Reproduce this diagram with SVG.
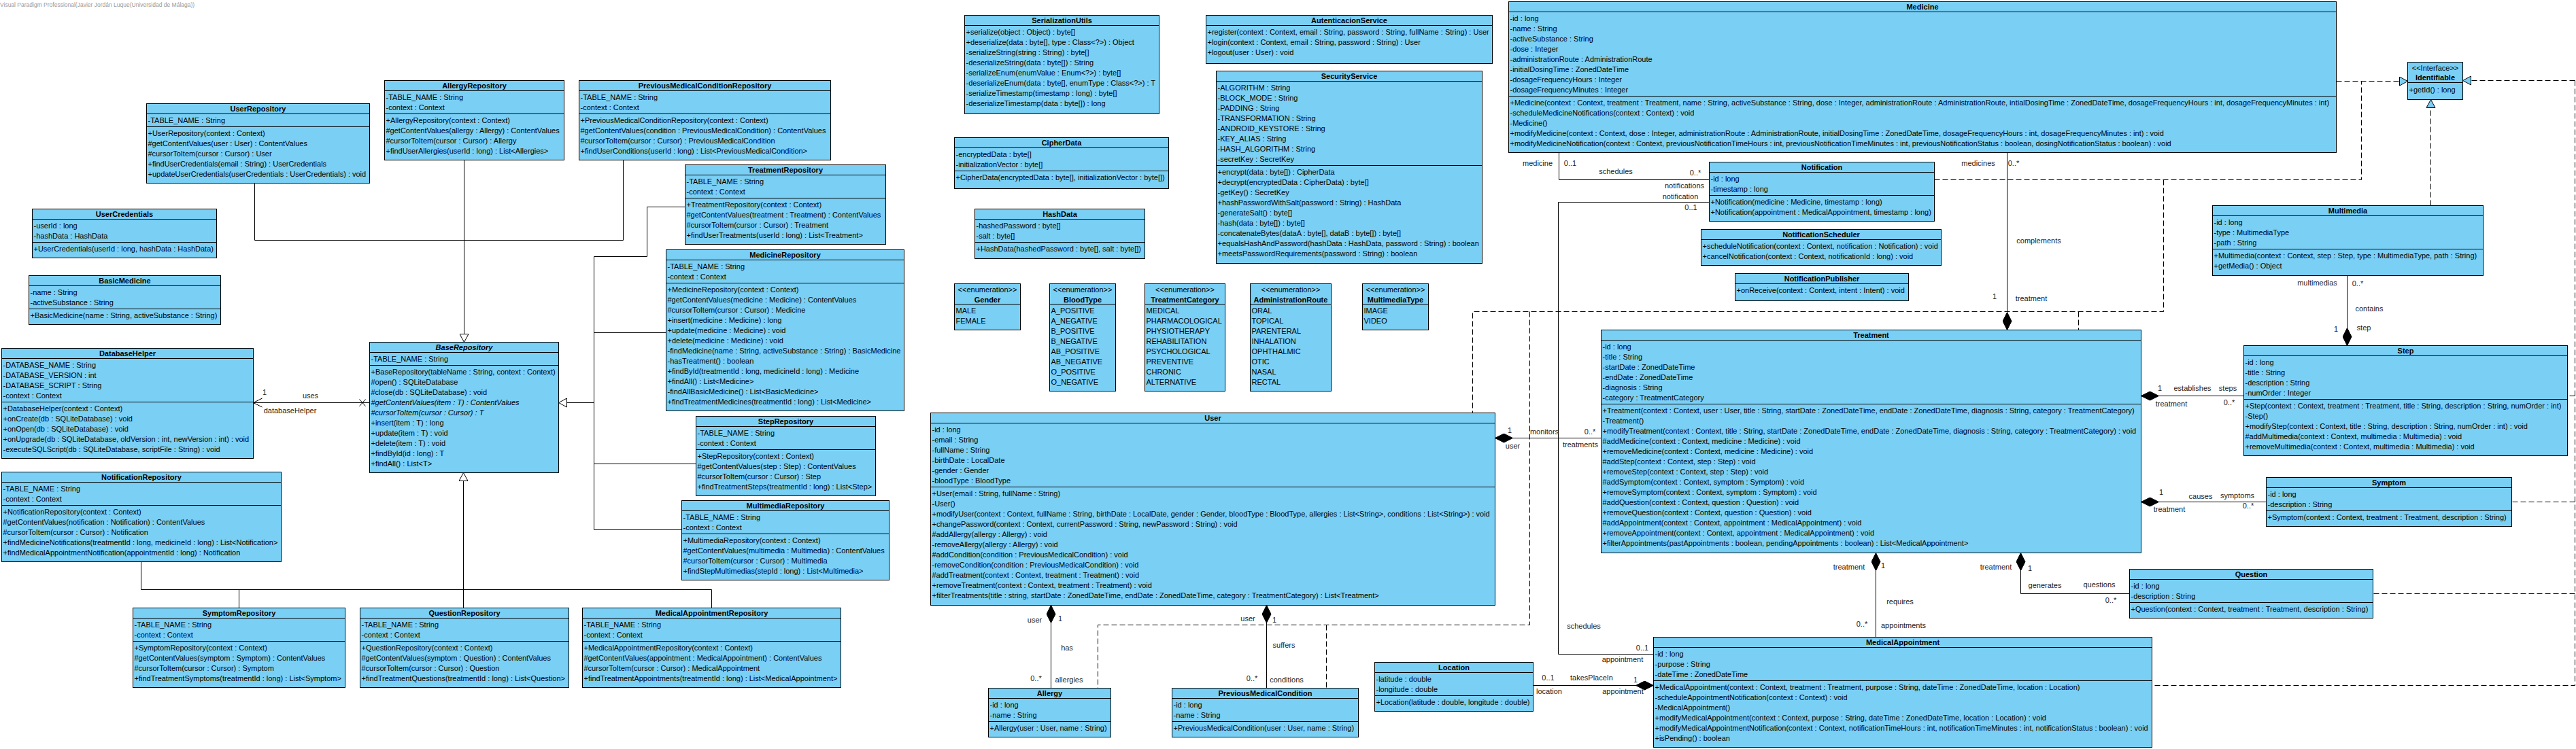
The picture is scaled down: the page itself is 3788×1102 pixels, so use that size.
<svg xmlns="http://www.w3.org/2000/svg" width="3788" height="1102" viewBox="0 0 3788 1102">
<style>
.b{fill:#7acff5;stroke:#000;stroke-width:1}
.s{fill:none;stroke:#000;stroke-width:1}
text{font-family:"Liberation Sans",Arial,Helvetica,sans-serif;font-size:11px;fill:#000}
.h{font-weight:bold;text-anchor:middle}
.m{text-anchor:middle}
.i{font-style:italic}
.c{fill:none;stroke:#000;stroke-width:1}
.d{stroke-dasharray:8 4}
.l{fill:#222;text-anchor:middle}
.w{font-size:8.5px;fill:#9a9a9a}
</style>
<defs>
<marker id="gen" viewBox="0 0 14 14" refX="13" refY="7" markerWidth="14" markerHeight="14" orient="auto" markerUnits="userSpaceOnUse"><path d="M1,0.5L13,7L1,13.5Z" fill="#fff" stroke="#000"/></marker>
<marker id="real" viewBox="0 0 14 14" refX="13" refY="7" markerWidth="14" markerHeight="14" orient="auto" markerUnits="userSpaceOnUse"><path d="M1,0.5L13,7L1,13.5Z" fill="#7acff5" stroke="#000" stroke-dasharray="none"/></marker>
<marker id="dia" viewBox="0 0 27 14" refX="0.5" refY="7" markerWidth="27" markerHeight="14" orient="auto" markerUnits="userSpaceOnUse"><path d="M0.5,7L13.5,0.5L26.5,7L13.5,13.5Z" fill="#000" stroke="#000"/></marker>
</defs>
<rect width="3788" height="1102" fill="#fff"/>
<text class="w" x="0" y="10">Visual Paradigm Professional(Javier Jordán Luque(Universidad de Málaga))</text>

<g id="connectors">
<path class="c" d="M682.5,235.5V503.5" marker-end="url(#gen)"/>
<path class="c" d="M374.5,269.5V353.5H682.5"/>
<path class="c" d="M916.5,235.5V353.5H682.5"/>
<path class="c" d="M873.5,592.5H821.5" marker-end="url(#gen)"/>
<path class="c" d="M873.5,377.5V779.5"/>
<path class="c" d="M1007.5,304.5H951.5V377.5H873.5"/>
<path class="c" d="M979.5,489.5H873.5"/>
<path class="c" d="M1023.5,682.5H873.5"/>
<path class="c" d="M1002.5,779.5H873.5"/>
<path class="c" d="M681.5,867.5V695.5" marker-end="url(#gen)"/>
<path class="c" d="M207.5,867.5H1046.5"/>
<path class="c" d="M207.5,826.5V867.5"/>
<path class="c" d="M351.5,867.5V894.5"/>
<path class="c" d="M681.5,867.5V894.5"/>
<path class="c" d="M1046.5,867.5V894.5"/>
<path class="c" d="M543.5,592.5H372.5M385.5,586L372.5,592.5L385.5,599M528.5,587.5L537.5,597.5M528.5,597.5L537.5,587.5"/>
<path class="c" d="M2198.5,644.5H2354.5" marker-start="url(#dia)"/>
<path class="c" d="M2951.5,485.5V224.5" marker-start="url(#dia)"/>
<path class="c" d="M3148.5,582.5H3299.5" marker-start="url(#dia)"/>
<path class="c" d="M3148.5,738.5H3332.5" marker-start="url(#dia)"/>
<path class="c" d="M2971.5,813.5V873.5H3131.5" marker-start="url(#dia)"/>
<path class="c" d="M2758.5,813.5V937.5" marker-start="url(#dia)"/>
<path class="c" d="M2431.5,1008.5H2254.5" marker-start="url(#dia)"/>
<path class="c" d="M1545.5,890.5V1012.5" marker-start="url(#dia)"/>
<path class="c" d="M1862.5,890.5V1012.5" marker-start="url(#dia)"/>
<path class="c" d="M3451.5,508.5V405.5" marker-start="url(#dia)"/>
<path class="c" d="M2292.5,224.5V264.5H2513.5"/>
<path class="c" d="M2513.5,297.5H2291.5V962.5H2431.5"/>
<path class="c d" d="M3435.5,119.5H3540.5" marker-end="url(#real)"/>
<path class="c d" d="M2844.5,264.5H3472.5V119.5"/>
<path class="c d" d="M3181.5,264.5V458.5H2165.5V607.5"/>
<path class="c d" d="M3056.5,458.5V485.5"/>
<path class="c d" d="M2249.5,458.5V919.5H1614.5V1012.5"/>
<path class="c d" d="M1950.5,919.5V1012.5"/>
<path class="c d" d="M3574.5,302.5V146.5" marker-end="url(#real)"/>
<path class="c d" d="M3786.5,118.5H3621.5" marker-end="url(#real)"/>
<path class="c d" d="M3786.5,118.5V1008.5H3164.5"/>
<path class="c d" d="M3786.5,582.5H3775.5"/>
<path class="c d" d="M3786.5,738.5H3693.5"/>
<path class="c d" d="M3786.5,873.5H3489.5"/>
<text class="l" x="389" y="580.5">1</text><text class="l" x="456.5" y="585.5">uses</text><text class="l" x="426.5" y="607.5">databaseHelper</text>
<text class="l" x="2261" y="243.5">medicine</text><text class="l" x="2309" y="243.5">0..1</text><text class="l" x="2376" y="255.5">schedules</text><text class="l" x="2493" y="257.5">0..*</text><text class="l" x="2477" y="277">notifications</text>
<text class="l" x="2471" y="292.5">notification</text><text class="l" x="2486.5" y="308.5">0..1</text><text class="l" x="2329" y="925">schedules</text><text class="l" x="2415" y="957">0..1</text><text class="l" x="2386" y="974">appointment</text>
<text class="l" x="2909" y="243.5">medicines</text><text class="l" x="2961" y="243.5">0..*</text><text class="l" x="2998" y="357.5">complements</text><text class="l" x="2933" y="440">1</text><text class="l" x="2987" y="443">treatment</text>
<text class="l" x="3407.5" y="419.5">multimedias</text><text class="l" x="3467" y="421">0..*</text><text class="l" x="3484" y="458">contains</text><text class="l" x="3435" y="487.5">1</text><text class="l" x="3476" y="485.5">step</text>
<text class="l" x="3176" y="574.5">1</text><text class="l" x="3224" y="574.5">establishes</text><text class="l" x="3276" y="574.5">steps</text><text class="l" x="3193" y="598">treatment</text><text class="l" x="3278" y="595.5">0..*</text>
<text class="l" x="3178" y="728">1</text><text class="l" x="3236" y="734">causes</text><text class="l" x="3290" y="732.5">symptoms</text><text class="l" x="3190" y="752.5">treatment</text><text class="l" x="3306" y="748">0..*</text>
<text class="l" x="2935" y="838">treatment</text><text class="l" x="2985" y="840">1</text><text class="l" x="3007" y="865">generates</text><text class="l" x="3087" y="863.5">questions</text><text class="l" x="3104" y="886.5">0..*</text>
<text class="l" x="2719" y="838">treatment</text><text class="l" x="2769" y="836">1</text><text class="l" x="2794" y="889">requires</text><text class="l" x="2738" y="922">0..*</text><text class="l" x="2799" y="924">appointments</text>
<text class="l" x="2276.5" y="1001">0..1</text><text class="l" x="2340.5" y="1001">takesPlaceIn</text><text class="l" x="2405" y="1004">1</text><text class="l" x="2278" y="1021">location</text><text class="l" x="2386.5" y="1021">appointment</text>
<text class="l" x="2220" y="636.5">1</text><text class="l" x="2271" y="638.5">monitors</text><text class="l" x="2338" y="639">0..*</text><text class="l" x="2224.5" y="659.5">user</text><text class="l" x="2324" y="658">treatments</text>
<text class="l" x="1521.5" y="916">user</text><text class="l" x="1559" y="914">1</text><text class="l" x="1569" y="957">has</text><text class="l" x="1523.5" y="1002">0..*</text><text class="l" x="1572" y="1004">allergies</text>
<text class="l" x="1835" y="913.5">user</text><text class="l" x="1874" y="916">1</text><text class="l" x="1888" y="952.5">suffers</text><text class="l" x="1841" y="1002">0..*</text><text class="l" x="1892" y="1004">conditions</text>
</g>

<g id="UserRepository" transform="translate(215.5,152.5)"><rect class="b" width="328" height="117"/><path class="s" d="M0,15H328M0,34H328"/><text class="h" x="164" y="11.5">UserRepository</text><text x="2" y="28.5">-TABLE_NAME : String</text><text x="2" y="47.5">+UserRepository(context : Context)</text><text x="2" y="62.5">#getContentValues(user : User) : ContentValues</text><text x="2" y="77.5">#cursorToItem(cursor : Cursor) : User</text><text x="2" y="92.5">+findUserCredentials(email : String) : UserCredentials</text><text x="2" y="107.5">+updateUserCredentials(userCredentials : UserCredentials) : void</text></g>

<g id="AllergyRepository" transform="translate(565.5,118.5)"><rect class="b" width="264" height="117"/><path class="s" d="M0,15H264M0,49H264"/><text class="h" x="132" y="11.5">AllergyRepository</text><text x="2" y="28.5">-TABLE_NAME : String</text><text x="2" y="43.5">-context : Context</text><text x="2" y="62.5">+AllergyRepository(context : Context)</text><text x="2" y="77.5">#getContentValues(allergy : Allergy) : ContentValues</text><text x="2" y="92.5">#cursorToItem(cursor : Cursor) : Allergy</text><text x="2" y="107.5">+findUserAllergies(userId : long) : List&lt;Allergies&gt;</text></g>

<g id="PreviousMedicalConditionRepository" transform="translate(851.5,118.5)"><rect class="b" width="370" height="117"/><path class="s" d="M0,15H370M0,49H370"/><text class="h" x="185" y="11.5">PreviousMedicalConditionRepository</text><text x="2" y="28.5">-TABLE_NAME : String</text><text x="2" y="43.5">-context : Context</text><text x="2" y="62.5">+PreviousMedicalConditionRepository(context : Context)</text><text x="2" y="77.5">#getContentValues(condition : PreviousMedicalCondition) : ContentValues</text><text x="2" y="92.5">#cursorToItem(cursor : Cursor) : PreviousMedicalCondition</text><text x="2" y="107.5">+findUserConditions(userId : long) : List&lt;PreviousMedicalCondition&gt;</text></g>

<g id="TreatmentRepository" transform="translate(1007.5,242.5)"><rect class="b" width="295" height="117"/><path class="s" d="M0,15H295M0,49H295"/><text class="h" x="147.5" y="11.5">TreatmentRepository</text><text x="2" y="28.5">-TABLE_NAME : String</text><text x="2" y="43.5">-context : Context</text><text x="2" y="62.5">+TreatmentRepository(context : Context)</text><text x="2" y="77.5">#getContentValues(treatment : Treatment) : ContentValues</text><text x="2" y="92.5">#cursorToItem(cursor : Cursor) : Treatment</text><text x="2" y="107.5">+findUserTreatments(userId : long) : List&lt;Treatment&gt;</text></g>

<g id="MedicineRepository" transform="translate(979.5,367.5)"><rect class="b" width="350" height="237"/><path class="s" d="M0,15H350M0,49H350"/><text class="h" x="175" y="11.5">MedicineRepository</text><text x="2" y="28.5">-TABLE_NAME : String</text><text x="2" y="43.5">-context : Context</text><text x="2" y="62.5">+MedicineRepository(context : Context)</text><text x="2" y="77.5">#getContentValues(medicine : Medicine) : ContentValues</text><text x="2" y="92.5">#cursorToItem(cursor : Cursor) : Medicine</text><text x="2" y="107.5">+insert(medicine : Medicine) : long</text><text x="2" y="122.5">+update(medicine : Medicine) : void</text><text x="2" y="137.5">+delete(medicine : Medicine) : void</text><text x="2" y="152.5">-findMedicine(name : String, activeSubstance : String) : BasicMedicine</text><text x="2" y="167.5">-hasTreatment() : boolean</text><text x="2" y="182.5">+findById(treatmentId : long, medicineId : long) : Medicine</text><text x="2" y="197.5">+findAll() : List&lt;Medicine&gt;</text><text x="2" y="212.5">-findAllBasicMedicine() : List&lt;BasicMedicine&gt;</text><text x="2" y="227.5">+findTreatmentMedicines(treatmentId : long) : List&lt;Medicine&gt;</text></g>

<g id="StepRepository" transform="translate(1023.5,612.5)"><rect class="b" width="264" height="117"/><path class="s" d="M0,15H264M0,49H264"/><text class="h" x="132" y="11.5">StepRepository</text><text x="2" y="28.5">-TABLE_NAME : String</text><text x="2" y="43.5">-context : Context</text><text x="2" y="62.5">+StepRepository(context : Context)</text><text x="2" y="77.5">#getContentValues(step : Step) : ContentValues</text><text x="2" y="92.5">#cursorToItem(cursor : Cursor) : Step</text><text x="2" y="107.5">+findTreatmentSteps(treatmentId : long) : List&lt;Step&gt;</text></g>

<g id="MultimediaRepository" transform="translate(1002.5,736.5)"><rect class="b" width="305" height="117"/><path class="s" d="M0,15H305M0,49H305"/><text class="h" x="152.5" y="11.5">MultimediaRepository</text><text x="2" y="28.5">-TABLE_NAME : String</text><text x="2" y="43.5">-context : Context</text><text x="2" y="62.5">+MultimediaRepository(context : Context)</text><text x="2" y="77.5">#getContentValues(multimedia : Multimedia) : ContentValues</text><text x="2" y="92.5">#cursorToItem(cursor : Cursor) : Multimedia</text><text x="2" y="107.5">+findStepMultimedias(stepId : long) : List&lt;Multimedia&gt;</text></g>

<g id="BaseRepository" transform="translate(543.5,503.5)"><rect class="b" width="278" height="192"/><path class="s" d="M0,15H278M0,34H278"/><text class="h i" x="139" y="11.5">BaseRepository</text><text x="2" y="28.5">-TABLE_NAME : String</text><text x="2" y="47.5">+BaseRepository(tableName : String, context : Context)</text><text x="2" y="62.5">#open() : SQLiteDatabase</text><text x="2" y="77.5">#close(db : SQLiteDatabase) : void</text><text class="i" x="2" y="92.5">#getContentValues(item : T) : ContentValues</text><text class="i" x="2" y="107.5">#cursorToItem(cursor : Cursor) : T</text><text x="2" y="122.5">+insert(item : T) : long</text><text x="2" y="137.5">+update(item : T) : void</text><text x="2" y="152.5">+delete(item : T) : void</text><text x="2" y="167.5">+findById(id : long) : T</text><text x="2" y="182.5">+findAll() : List&lt;T&gt;</text></g>

<g id="UserCredentials" transform="translate(47.5,307.5)"><rect class="b" width="271" height="72"/><path class="s" d="M0,15H271M0,49H271"/><text class="h" x="135.5" y="11.5">UserCredentials</text><text x="2" y="28.5">-userId : long</text><text x="2" y="43.5">-hashData : HashData</text><text x="2" y="62.5">+UserCredentials(userId : long, hashData : HashData)</text></g>

<g id="BasicMedicine" transform="translate(42.5,405.5)"><rect class="b" width="282" height="72"/><path class="s" d="M0,15H282M0,49H282"/><text class="h" x="141" y="11.5">BasicMedicine</text><text x="2" y="28.5">-name : String</text><text x="2" y="43.5">-activeSubstance : String</text><text x="2" y="62.5">+BasicMedicine(name : String, activeSubstance : String)</text></g>

<g id="DatabaseHelper" transform="translate(2.5,512.5)"><rect class="b" width="370" height="162"/><path class="s" d="M0,15H370M0,79H370"/><text class="h" x="185" y="11.5">DatabaseHelper</text><text x="2" y="28.5">-DATABASE_NAME : String</text><text x="2" y="43.5">-DATABASE_VERSION : int</text><text x="2" y="58.5">-DATABASE_SCRIPT : String</text><text x="2" y="73.5">-context : Context</text><text x="2" y="92.5">+DatabaseHelper(context : Context)</text><text x="2" y="107.5">+onCreate(db : SQLiteDatabase) : void</text><text x="2" y="122.5">+onOpen(db : SQLiteDatabase) : void</text><text x="2" y="137.5">+onUpgrade(db : SQLiteDatabase, oldVersion : int, newVersion : int) : void</text><text x="2" y="152.5">-executeSQLScript(db : SQLiteDatabase, scriptFile : String) : void</text></g>

<g id="NotificationRepository" transform="translate(2.5,694.5)"><rect class="b" width="411" height="132"/><path class="s" d="M0,15H411M0,49H411"/><text class="h" x="205.5" y="11.5">NotificationRepository</text><text x="2" y="28.5">-TABLE_NAME : String</text><text x="2" y="43.5">-context : Context</text><text x="2" y="62.5">+NotificationRepository(context : Context)</text><text x="2" y="77.5">#getContentValues(notification : Notification) : ContentValues</text><text x="2" y="92.5">#cursorToItem(cursor : Cursor) : Notification</text><text x="2" y="107.5">+findMedicineNotifications(treatmentId : long, medicineId : long) : List&lt;Notification&gt;</text><text x="2" y="122.5">+findMedicalAppointmentNotification(appointmentId : long) : Notification</text></g>

<g id="SymptomRepository" transform="translate(195.5,894.5)"><rect class="b" width="312" height="117"/><path class="s" d="M0,15H312M0,49H312"/><text class="h" x="156" y="11.5">SymptomRepository</text><text x="2" y="28.5">-TABLE_NAME : String</text><text x="2" y="43.5">-context : Context</text><text x="2" y="62.5">+SymptomRepository(context : Context)</text><text x="2" y="77.5">#getContentValues(symptom : Symptom) : ContentValues</text><text x="2" y="92.5">#cursorToItem(cursor : Cursor) : Symptom</text><text x="2" y="107.5">+findTreatmentSymptoms(treatmentId : long) : List&lt;Symptom&gt;</text></g>

<g id="QuestionRepository" transform="translate(529.5,894.5)"><rect class="b" width="307" height="117"/><path class="s" d="M0,15H307M0,49H307"/><text class="h" x="153.5" y="11.5">QuestionRepository</text><text x="2" y="28.5">-TABLE_NAME : String</text><text x="2" y="43.5">-context : Context</text><text x="2" y="62.5">+QuestionRepository(context : Context)</text><text x="2" y="77.5">#getContentValues(symptom : Question) : ContentValues</text><text x="2" y="92.5">#cursorToItem(cursor : Cursor) : Question</text><text x="2" y="107.5">+findTreatmentQuestions(treatmentId : long) : List&lt;Question&gt;</text></g>

<g id="MedicalAppointmentRepository" transform="translate(856.5,894.5)"><rect class="b" width="380" height="117"/><path class="s" d="M0,15H380M0,49H380"/><text class="h" x="190" y="11.5">MedicalAppointmentRepository</text><text x="2" y="28.5">-TABLE_NAME : String</text><text x="2" y="43.5">-context : Context</text><text x="2" y="62.5">+MedicalAppointmentRepository(context : Context)</text><text x="2" y="77.5">#getContentValues(appointment : MedicalAppointment) : ContentValues</text><text x="2" y="92.5">#cursorToItem(cursor : Cursor) : MedicalAppointment</text><text x="2" y="107.5">+findTreatmentAppointments(treatmentId : long) : List&lt;MedicalAppointment&gt;</text></g>

<g id="SerializationUtils" transform="translate(1418.5,22.5)"><rect class="b" width="286" height="145"/><path class="s" d="M0,15H286"/><text class="h" x="143" y="11.5">SerializationUtils</text><text x="2" y="28.5">+serialize(object : Object) : byte[]</text><text x="2" y="43.5">+deserialize(data : byte[], type : Class&lt;?&gt;) : Object</text><text x="2" y="58.5">-serializeString(string : String) : byte[]</text><text x="2" y="73.5">-deserializeString(data : byte[]) : String</text><text x="2" y="88.5">-serializeEnum(enumValue : Enum&lt;?&gt;) : byte[]</text><text x="2" y="103.5">-deserializeEnum(data : byte[], enumType : Class&lt;?&gt;) : T</text><text x="2" y="118.5">-serializeTimestamp(timestamp : long) : byte[]</text><text x="2" y="133.5">-deserializeTimestamp(data : byte[]) : long</text></g>

<g id="CipherData" transform="translate(1403.5,202.5)"><rect class="b" width="315" height="75"/><path class="s" d="M0,15H315M0,49H315"/><text class="h" x="157.5" y="11.5">CipherData</text><text x="2" y="28.5">-encryptedData : byte[]</text><text x="2" y="43.5">-initializationVector : byte[]</text><text x="2" y="62.5">+CipherData(encryptedData : byte[], initializationVector : byte[])</text></g>

<g id="HashData" transform="translate(1433.5,307.5)"><rect class="b" width="250" height="73"/><path class="s" d="M0,15H250M0,49H250"/><text class="h" x="125" y="11.5">HashData</text><text x="2" y="28.5">-hashedPassword : byte[]</text><text x="2" y="43.5">-salt : byte[]</text><text x="2" y="62.5">+HashData(hashedPassword : byte[], salt : byte[])</text></g>

<g id="Gender" transform="translate(1403.5,417.5)"><rect class="b" width="97" height="68"/><path class="s" d="M0,30H97"/><text class="m" x="48.5" y="12">&lt;&lt;enumeration&gt;&gt;</text><text class="h" x="48.5" y="27">Gender</text><text x="2" y="43.5">MALE</text><text x="2" y="58.5">FEMALE</text></g>

<g id="BloodType" transform="translate(1543.5,417.5)"><rect class="b" width="97" height="158"/><path class="s" d="M0,30H97"/><text class="m" x="48.5" y="12">&lt;&lt;enumeration&gt;&gt;</text><text class="h" x="48.5" y="27">BloodType</text><text x="2" y="43.5">A_POSITIVE</text><text x="2" y="58.5">A_NEGATIVE</text><text x="2" y="73.5">B_POSITIVE</text><text x="2" y="88.5">B_NEGATIVE</text><text x="2" y="103.5">AB_POSITIVE</text><text x="2" y="118.5">AB_NEGATIVE</text><text x="2" y="133.5">O_POSITIVE</text><text x="2" y="148.5">O_NEGATIVE</text></g>

<g id="TreatmentCategory" transform="translate(1683.5,417.5)"><rect class="b" width="118" height="158"/><path class="s" d="M0,30H118"/><text class="m" x="59" y="12">&lt;&lt;enumeration&gt;&gt;</text><text class="h" x="59" y="27">TreatmentCategory</text><text x="2" y="43.5">MEDICAL</text><text x="2" y="58.5">PHARMACOLOGICAL</text><text x="2" y="73.5">PHYSIOTHERAPY</text><text x="2" y="88.5">REHABILITATION</text><text x="2" y="103.5">PSYCHOLOGICAL</text><text x="2" y="118.5">PREVENTIVE</text><text x="2" y="133.5">CHRONIC</text><text x="2" y="148.5">ALTERNATIVE</text></g>

<g id="AdministrationRoute" transform="translate(1838.5,417.5)"><rect class="b" width="119" height="158"/><path class="s" d="M0,30H119"/><text class="m" x="59.5" y="12">&lt;&lt;enumeration&gt;&gt;</text><text class="h" x="59.5" y="27">AdministrationRoute</text><text x="2" y="43.5">ORAL</text><text x="2" y="58.5">TOPICAL</text><text x="2" y="73.5">PARENTERAL</text><text x="2" y="88.5">INHALATION</text><text x="2" y="103.5">OPHTHALMIC</text><text x="2" y="118.5">OTIC</text><text x="2" y="133.5">NASAL</text><text x="2" y="148.5">RECTAL</text></g>

<g id="MultimediaType" transform="translate(2003.5,417.5)"><rect class="b" width="97" height="68"/><path class="s" d="M0,30H97"/><text class="m" x="48.5" y="12">&lt;&lt;enumeration&gt;&gt;</text><text class="h" x="48.5" y="27">MultimediaType</text><text x="2" y="43.5">IMAGE</text><text x="2" y="58.5">VIDEO</text></g>

<g id="AutenticacionService" transform="translate(1773.5,22.5)"><rect class="b" width="421" height="71"/><path class="s" d="M0,15H421"/><text class="h" x="210.5" y="11.5">AutenticacionService</text><text x="2" y="28.5">+register(context : Context, email : String, password : String, fullName : String) : User</text><text x="2" y="43.5">+login(context : Context, email : String, password : String) : User</text><text x="2" y="58.5">+logout(user : User) : void</text></g>

<g id="SecurityService" transform="translate(1788.5,104.5)"><rect class="b" width="391" height="283"/><path class="s" d="M0,15H391M0,139H391"/><text class="h" x="195.5" y="11.5">SecurityService</text><text x="2" y="28.5">-ALGORITHM : String</text><text x="2" y="43.5">-BLOCK_MODE : String</text><text x="2" y="58.5">-PADDING : String</text><text x="2" y="73.5">-TRANSFORMATION : String</text><text x="2" y="88.5">-ANDROID_KEYSTORE : String</text><text x="2" y="103.5">-KEY_ALIAS : String</text><text x="2" y="118.5">-HASH_ALGORITHM : String</text><text x="2" y="133.5">-secretKey : SecretKey</text><text x="2" y="152.5">+encrypt(data : byte[]) : CipherData</text><text x="2" y="167.5">+decrypt(encryptedData : CipherData) : byte[]</text><text x="2" y="182.5">-getKey() : SecretKey</text><text x="2" y="197.5">+hashPasswordWithSalt(password : String) : HashData</text><text x="2" y="212.5">-generateSalt() : byte[]</text><text x="2" y="227.5">-hash(data : byte[]) : byte[]</text><text x="2" y="242.5">-concatenateBytes(dataA : byte[], dataB : byte[]) : byte[]</text><text x="2" y="257.5">+equalsHashAndPassword(hashData : HashData, password : String) : boolean</text><text x="2" y="272.5">+meetsPasswordRequirements(password : String) : boolean</text></g>

<g id="Medicine" transform="translate(2218.5,2.5)"><rect class="b" width="1217" height="222"/><path class="s" d="M0,15H1217M0,139H1217"/><text class="h" x="608.5" y="11.5">Medicine</text><text x="2" y="28.5">-id : long</text><text x="2" y="43.5">-name : String</text><text x="2" y="58.5">-activeSubstance : String</text><text x="2" y="73.5">-dose : Integer</text><text x="2" y="88.5">-administrationRoute : AdministrationRoute</text><text x="2" y="103.5">-initialDosingTime : ZonedDateTime</text><text x="2" y="118.5">-dosageFrequencyHours : Integer</text><text x="2" y="133.5">-dosageFrequencyMinutes : Integer</text><text x="2" y="152.5">+Medicine(context : Context, treatment : Treatment, name : String, activeSubstance : String, dose : Integer, administrationRoute : AdministrationRoute, intialDosingTime : ZonedDateTime, dosageFrequencyHours : int, dosageFrequencyMinutes : int)</text><text x="2" y="167.5">-scheduleMedicineNotifications(context : Context) : void</text><text x="2" y="182.5">-Medicine()</text><text x="2" y="197.5">+modifyMedicine(context : Context, dose : Integer, administrationRoute : AdministrationRoute, initialDosingTime : ZonedDateTime, dosageFrequencyHours : int, dosageFrequencyMinutes : int) : void</text><text x="2" y="212.5">+modifyMedicineNotification(context : Context, previousNotificationTimeHours : int, previousNotificationTimeMinutes : int, previousNotificationStatus : boolean, dosingNotificationStatus : boolean) : void</text></g>

<g id="Notification" transform="translate(2513.5,238.5)"><rect class="b" width="331" height="87"/><path class="s" d="M0,15H331M0,49H331"/><text class="h" x="165.5" y="11.5">Notification</text><text x="2" y="28.5">-id : long</text><text x="2" y="43.5">-timestamp : long</text><text x="2" y="62.5">+Notification(medicine : Medicine, timestamp : long)</text><text x="2" y="77.5">+Notification(appointment : MedicalAppointment, timestamp : long)</text></g>

<g id="NotificationScheduler" transform="translate(2501.5,337.5)"><rect class="b" width="353" height="53"/><path class="s" d="M0,15H353"/><text class="h" x="176.5" y="11.5">NotificationScheduler</text><text x="2" y="28.5">+scheduleNotification(context : Context, notification : Notification) : void</text><text x="2" y="43.5">+cancelNotification(context : Context, notificationId : long) : void</text></g>

<g id="NotificationPublisher" transform="translate(2551.5,402.5)"><rect class="b" width="255" height="40"/><path class="s" d="M0,15H255"/><text class="h" x="127.5" y="11.5">NotificationPublisher</text><text x="2" y="28.5">+onReceive(context : Context, intent : Intent) : void</text></g>

<g id="Identifiable" transform="translate(3540.5,91.5)"><rect class="b" width="81" height="55"/><path class="s" d="M0,30H81"/><text class="m" x="40.5" y="12">&lt;&lt;Interface&gt;&gt;</text><text class="h" x="40.5" y="26.5">Identifiable</text><text x="2" y="44.5">+getId() : long</text></g>

<g id="Multimedia" transform="translate(3253.5,302.5)"><rect class="b" width="398" height="103"/><path class="s" d="M0,15H398M0,64H398"/><text class="h" x="199" y="11.5">Multimedia</text><text x="2" y="28.5">-id : long</text><text x="2" y="43.5">-type : MultimediaType</text><text x="2" y="58.5">-path : String</text><text x="2" y="77.5">+Multimedia(context : Context, step : Step, type : MultimediaType, path : String)</text><text x="2" y="92.5">+getMedia() : Object</text></g>

<g id="Step" transform="translate(3299.5,508.5)"><rect class="b" width="476" height="162"/><path class="s" d="M0,15H476M0,79H476"/><text class="h" x="238" y="11.5">Step</text><text x="2" y="28.5">-id : long</text><text x="2" y="43.5">-title : String</text><text x="2" y="58.5">-description : String</text><text x="2" y="73.5">-numOrder : Integer</text><text x="2" y="92.5">+Step(context : Context, treatment : Treatment, title : String, description : String, numOrder : int)</text><text x="2" y="107.5">-Step()</text><text x="2" y="122.5">+modifyStep(context : Context, title : String, description : String, numOrder : int) : void</text><text x="2" y="137.5">#addMultimedia(context : Context, multimedia : Multimedia) : void</text><text x="2" y="152.5">+removeMultimedia(context : Context, multimedia : Multimedia) : void</text></g>

<g id="Symptom" transform="translate(3332.5,702.5)"><rect class="b" width="361" height="72"/><path class="s" d="M0,15H361M0,49H361"/><text class="h" x="180.5" y="11.5">Symptom</text><text x="2" y="28.5">-id : long</text><text x="2" y="43.5">-description : String</text><text x="2" y="62.5">+Symptom(context : Context, treatment : Treatment, description : String)</text></g>

<g id="Question" transform="translate(3131.5,837.5)"><rect class="b" width="358" height="72"/><path class="s" d="M0,15H358M0,49H358"/><text class="h" x="179" y="11.5">Question</text><text x="2" y="28.5">-id : long</text><text x="2" y="43.5">-description : String</text><text x="2" y="62.5">+Question(context : Context, treatment : Treatment, description : String)</text></g>

<g id="Treatment" transform="translate(2354.5,485.5)"><rect class="b" width="794" height="328"/><path class="s" d="M0,15H794M0,109H794"/><text class="h" x="397" y="11.5">Treatment</text><text x="2" y="28.5">-id : long</text><text x="2" y="43.5">-title : String</text><text x="2" y="58.5">-startDate : ZonedDateTime</text><text x="2" y="73.5">-endDate : ZonedDateTime</text><text x="2" y="88.5">-diagnosis : String</text><text x="2" y="103.5">-category : TreatmentCategory</text><text x="2" y="122.5">+Treatment(context : Context, user : User, title : String, startDate : ZonedDateTime, endDate : ZonedDateTime, diagnosis : String, category : TreatmentCategory)</text><text x="2" y="137.5">-Treatment()</text><text x="2" y="152.5">+modifyTreatment(context : Context, title : String, startDate : ZonedDateTime, endDate : ZonedDateTime, diagnosis : String, category : TreatmentCategory) : void</text><text x="2" y="167.5">#addMedicine(context : Context, medicine : Medicine) : void</text><text x="2" y="182.5">+removeMedicine(context : Context, medicine : Medicine) : void</text><text x="2" y="197.5">#addStep(context : Context, step : Step) : void</text><text x="2" y="212.5">+removeStep(context : Context, step : Step) : void</text><text x="2" y="227.5">#addSymptom(context : Context, symptom : Symptom) : void</text><text x="2" y="242.5">+removeSymptom(context : Context, symptom : Symptom) : void</text><text x="2" y="257.5">#addQuestion(context : Context, question : Question) : void</text><text x="2" y="272.5">+removeQuestion(context : Context, question : Question) : void</text><text x="2" y="287.5">#addAppointment(context : Context, appointment : MedicalAppointment) : void</text><text x="2" y="302.5">+removeAppointment(context : Context, appointment : MedicalAppointment) : void</text><text x="2" y="317.5">+filterAppointments(pastAppointments : boolean, pendingAppointments : boolean) : List&lt;MedicalAppointment&gt;</text></g>

<g id="User" transform="translate(1368.5,607.5)"><rect class="b" width="830" height="283"/><path class="s" d="M0,15H830M0,109H830"/><text class="h" x="415" y="11.5">User</text><text x="2" y="28.5">-id : long</text><text x="2" y="43.5">-email : String</text><text x="2" y="58.5">-fullName : String</text><text x="2" y="73.5">-birthDate : LocalDate</text><text x="2" y="88.5">-gender : Gender</text><text x="2" y="103.5">-bloodType : BloodType</text><text x="2" y="122.5">+User(email : String, fullName : String)</text><text x="2" y="137.5">-User()</text><text x="2" y="152.5">+modifyUser(context : Context, fullName : String, birthDate : LocalDate, gender : Gender, bloodType : BloodType, allergies : List&lt;String&gt;, conditions : List&lt;String&gt;) : void</text><text x="2" y="167.5">+changePassword(context : Context, currentPassword : String, newPassword : String) : void</text><text x="2" y="182.5">#addAllergy(allergy : Allergy) : void</text><text x="2" y="197.5">-removeAllergy(allergy : Allergy) : void</text><text x="2" y="212.5">#addCondition(condition : PreviousMedicalCondition) : void</text><text x="2" y="227.5">-removeCondition(condition : PreviousMedicalCondition) : void</text><text x="2" y="242.5">#addTreatment(context : Context, treatment : Treatment) : void</text><text x="2" y="257.5">+removeTreatment(context : Context, treatment : Treatment) : void</text><text x="2" y="272.5">+filterTreatments(title : string, startDate : ZonedDateTime, endDate : ZonedDateTime, category : TreatmentCategory) : List&lt;Treatment&gt;</text></g>

<g id="Allergy" transform="translate(1453.5,1012.5)"><rect class="b" width="180" height="72"/><path class="s" d="M0,15H180M0,49H180"/><text class="h" x="90" y="11.5">Allergy</text><text x="2" y="28.5">-id : long</text><text x="2" y="43.5">-name : String</text><text x="2" y="62.5">+Allergy(user : User, name : String)</text></g>

<g id="PreviousMedicalCondition" transform="translate(1723.5,1012.5)"><rect class="b" width="274" height="72"/><path class="s" d="M0,15H274M0,49H274"/><text class="h" x="137" y="11.5">PreviousMedicalCondition</text><text x="2" y="28.5">-id : long</text><text x="2" y="43.5">-name : String</text><text x="2" y="62.5">+PreviousMedicalCondition(user : User, name : String)</text></g>

<g id="Location" transform="translate(2021.5,974.5)"><rect class="b" width="233" height="72"/><path class="s" d="M0,15H233M0,49H233"/><text class="h" x="116.5" y="11.5">Location</text><text x="2" y="28.5">-latitude : double</text><text x="2" y="43.5">-longitude : double</text><text x="2" y="62.5">+Location(latitude : double, longitude : double)</text></g>

<g id="MedicalAppointment" transform="translate(2431.5,937.5)"><rect class="b" width="733" height="162"/><path class="s" d="M0,15H733M0,64H733"/><text class="h" x="366.5" y="11.5">MedicalAppointment</text><text x="2" y="28.5">-id : long</text><text x="2" y="43.5">-purpose : String</text><text x="2" y="58.5">-dateTime : ZonedDateTime</text><text x="2" y="77.5">+MedicalAppointment(context : Context, treatment : Treatment, purpose : String, dateTime : ZonedDateTime, location : Location)</text><text x="2" y="92.5">-scheduleAppointmentNotification(context : Context) : void</text><text x="2" y="107.5">-MedicalAppointment()</text><text x="2" y="122.5">+modifyMedicalAppointment(context : Context, purpose : String, dateTime : ZonedDateTime, location : Location) : void</text><text x="2" y="137.5">+modifyMedicalAppointmentNotification(context : Context, notificationTimeHours : int, notificationTimeMinutes : int, notificationStatus : boolean) : void</text><text x="2" y="152.5">+isPending() : boolean</text></g>
</svg>
